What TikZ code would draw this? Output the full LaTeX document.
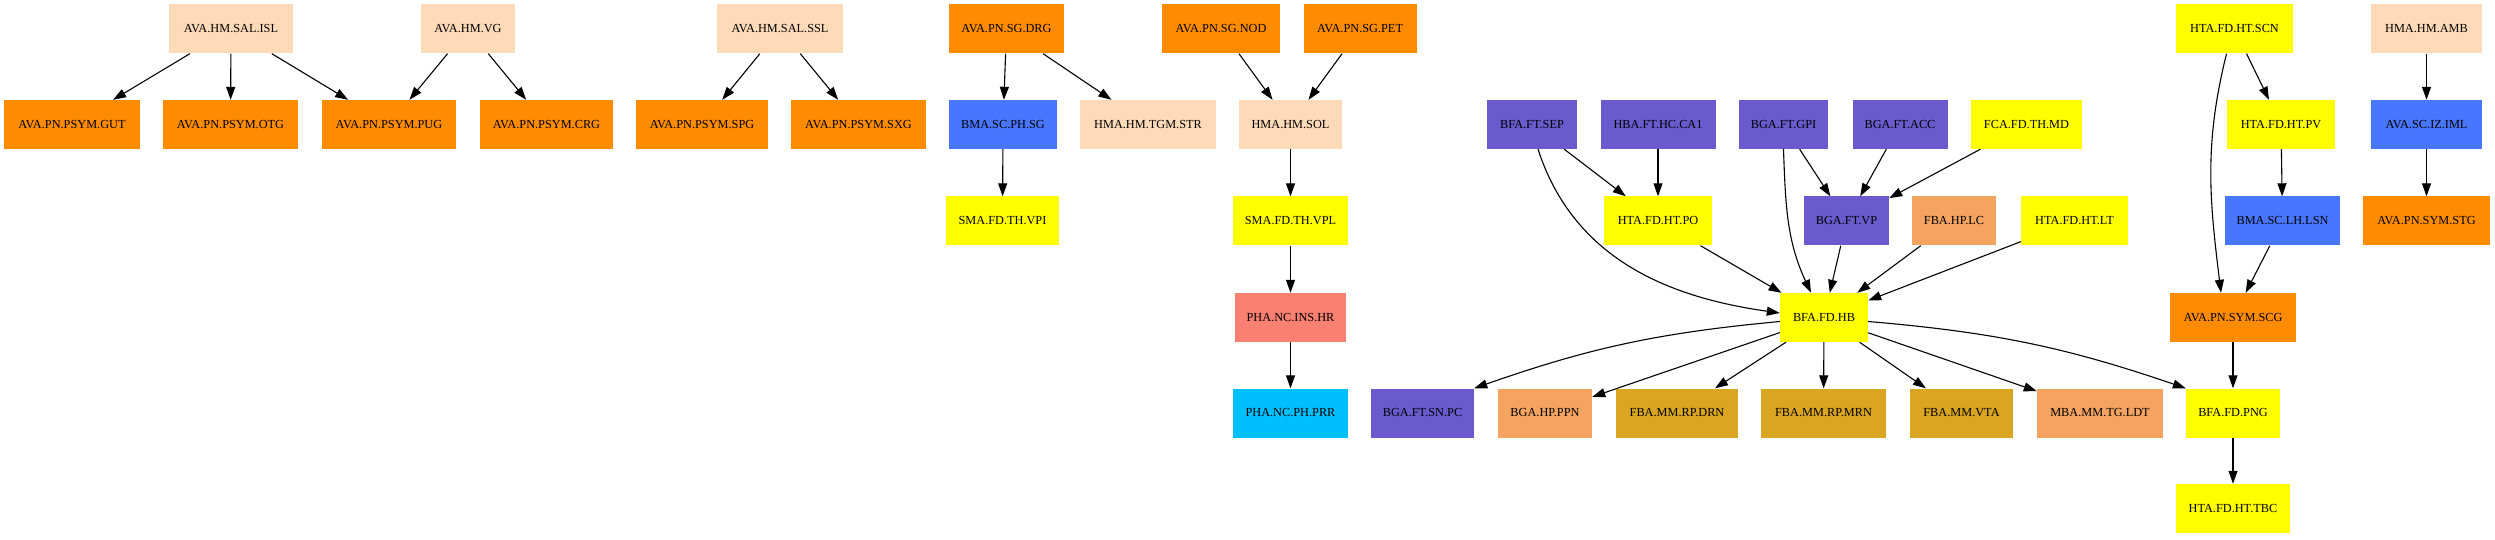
\documentclass[tikz,border=0pt]{standalone}
\usepackage{fontspec}
\setmainfont{Liberation Serif}
\usetikzlibrary{arrows.meta}
\definecolor{cpeach}{HTML}{FFDAB9}
\definecolor{corange}{HTML}{FF8C00}
\definecolor{cblue}{HTML}{4876FF}
\definecolor{cyellow}{HTML}{FFFF00}
\definecolor{cslate}{HTML}{6A5ACD}
\definecolor{csandy}{HTML}{F4A460}
\definecolor{cgold}{HTML}{DAA520}
\definecolor{csalmon}{HTML}{FA8072}
\definecolor{csky}{HTML}{00BFFF}
\tikzset{
  nd/.style={draw=none, minimum height=49pt, inner sep=0pt, font=\fontsize{12.3}{14}\selectfont},
  peach/.style={nd, fill=cpeach},
  orange/.style={nd, fill=corange},
  blue/.style={nd, fill=cblue},
  yel/.style={nd, fill=cyellow},
  slate/.style={nd, fill=cslate},
  sandy/.style={nd, fill=csandy},
  gold/.style={nd, fill=cgold},
  salm/.style={nd, fill=csalmon},
  sky/.style={nd, fill=csky},
  edge/.style={line width=1.1pt, -{Triangle[length=13pt,width=9pt]}}
}
\begin{document}
\begin{tikzpicture}[x=1pt,y=1pt]
\useasboundingbox (0,0) rectangle (2495,539);
% row 1
\node[peach, minimum width=124pt] (isl) at (231,510) {AVA.HM.SAL.ISL};
\node[peach, minimum width=94pt] (vg) at (468,510) {AVA.HM.VG};
\node[peach, minimum width=126pt] (ssl) at (780,510) {AVA.HM.SAL.SSL};
\node[orange, minimum width=115pt] (drg) at (1006.5,510) {AVA.PN.SG.DRG};
\node[orange, minimum width=118pt] (nod) at (1221,510) {AVA.PN.SG.NOD};
\node[orange, minimum width=113pt] (pet) at (1360,510) {AVA.PN.SG.PET};
\node[yel, minimum width=117pt] (scn) at (2234.5,510) {HTA.FD.HT.SCN};
\node[peach, minimum width=111pt] (amb) at (2426.5,510) {HMA.HM.AMB};
% row 2
\node[orange, minimum width=136pt] (gut) at (72,414.5) {AVA.PN.PSYM.GUT};
\node[orange, minimum width=135pt] (otg) at (230.5,414.5) {AVA.PN.PSYM.OTG};
\node[orange, minimum width=134pt] (pug) at (389,414.5) {AVA.PN.PSYM.PUG};
\node[orange, minimum width=133pt] (crg) at (546.5,414.5) {AVA.PN.PSYM.CRG};
\node[orange, minimum width=132pt] (spg) at (702,414.5) {AVA.PN.PSYM.SPG};
\node[orange, minimum width=135pt] (sxg) at (858.5,414.5) {AVA.PN.PSYM.SXG};
\node[blue, minimum width=108pt] (phsg) at (1003,414.5) {BMA.SC.PH.SG};
\node[peach, minimum width=136pt] (tgm) at (1148,414.5) {HMA.HM.TGM.STR};
\node[peach, minimum width=103pt] (sol) at (1290.5,414.5) {HMA.HM.SOL};
\node[slate, minimum width=90pt] (sep) at (1532,414.5) {BFA.FT.SEP};
\node[slate, minimum width=115pt] (ca1) at (1658,414.5) {HBA.FT.HC.CA1};
\node[slate, minimum width=89pt] (gpi) at (1783.5,414.5) {BGA.FT.GPI};
\node[slate, minimum width=95pt] (acc) at (1900,414.5) {BGA.FT.ACC};
\node[yel, minimum width=111pt] (md) at (2026.5,414.5) {FCA.FD.TH.MD};
\node[yel, minimum width=108pt] (pv) at (2281,414.5) {HTA.FD.HT.PV};
\node[blue, minimum width=111pt] (iml) at (2426.5,414.5) {AVA.SC.IZ.IML};
% row 3
\node[yel, minimum width=113pt] (vpi) at (1002.5,318) {SMA.FD.TH.VPI};
\node[yel, minimum width=115pt] (vpl) at (1290.5,318) {SMA.FD.TH.VPL};
\node[yel, minimum width=108pt] (po) at (1658,318) {HTA.FD.HT.PO};
\node[slate, minimum width=85pt] (vp) at (1846.5,318) {BGA.FT.VP};
\node[sandy, minimum width=84pt] (lc) at (1954,318) {FBA.HP.LC};
\node[yel, minimum width=107pt] (lt) at (2074.5,318) {HTA.FD.HT.LT};
\node[blue, minimum width=115pt] (lsn) at (2282.5,318) {BMA.SC.LH.LSN};
\node[orange, minimum width=127pt] (stg) at (2426.5,318) {AVA.PN.SYM.STG};
% row 4
\node[salm, minimum width=111pt] (ins) at (1290.5,221.5) {PHA.NC.INS.HR};
\node[yel, minimum width=88pt] (hb) at (1824,221.5) {BFA.FD.HB};
\node[orange, minimum width=126pt] (scg) at (2233,221.5) {AVA.PN.SYM.SCG};
% row 5
\node[sky, minimum width=115pt] (prr) at (1290.5,126) {PHA.NC.PH.PRR};
\node[slate, minimum width=103pt] (snpc) at (1422.5,126) {BGA.FT.SN.PC};
\node[sandy, minimum width=94pt] (ppn) at (1545,126) {BGA.HP.PPN};
\node[gold, minimum width=122pt] (drn) at (1677,126) {FBA.MM.RP.DRN};
\node[gold, minimum width=125pt] (mrn) at (1823.5,126) {FBA.MM.RP.MRN};
\node[gold, minimum width=103pt] (vta) at (1961.5,126) {FBA.MM.VTA};
\node[sandy, minimum width=126pt] (ldt) at (2100,126) {MBA.MM.TG.LDT};
\node[yel, minimum width=94pt] (png) at (2233,126) {BFA.FD.PNG};
% row 6
\node[yel, minimum width=114pt] (tbc) at (2233,30.5) {HTA.FD.HT.TBC};
% edges
\draw[edge] (isl) -- (gut);
\draw[edge] (isl) -- (otg);
\draw[edge] (isl) -- (pug);
\draw[edge] (vg) -- (pug);
\draw[edge] (vg) -- (crg);
\draw[edge] (ssl) -- (spg);
\draw[edge] (ssl) -- (sxg);
\draw[edge] (drg) -- (phsg);
\draw[edge] (drg) -- (tgm);
\draw[edge] (phsg) -- (vpi);
\draw[edge] (nod) -- (sol);
\draw[edge] (pet) -- (sol);
\draw[edge] (sol) -- (vpl);
\draw[edge] (vpl) -- (ins);
\draw[edge] (ins) -- (prr);
\draw[edge] (sep) -- (po);
\draw[edge] ([xshift=6pt]sep.south) to[out=-72,in=172] ([yshift=4.5pt]hb.west);
\draw[edge] (ca1) -- (po);
\draw[edge] (gpi) -- (vp);
\draw[edge] (gpi.south) to[out=-88,in=115] ([xshift=-13pt]hb.north);
\draw[edge] (acc) -- (vp);
\draw[edge] (md) -- (vp);
\draw[edge] (po) -- (hb);
\draw[edge] (vp) -- (hb);
\draw[edge] (lc) -- (hb);
\draw[edge] (lt) -- (hb);
\draw[edge] ([yshift=-4pt]hb.west) to[bend right=7] (snpc.north east);
\draw[edge] (hb) -- (ppn);
\draw[edge] (hb) -- (drn);
\draw[edge] (hb) -- (mrn);
\draw[edge] (hb) -- (vta);
\draw[edge] (hb) -- (ldt);
\draw[edge] ([yshift=-4pt]hb.east) to[bend left=7] (png.north west);
\draw[edge] (scn) -- (pv);
\draw[edge] ([xshift=-8pt]scn.south) to[out=-104,in=97] ([xshift=-12pt]scg.north);
\draw[edge] (pv) -- (lsn);
\draw[edge] (lsn) -- (scg);
\draw[edge] (scg) -- (png);
\draw[edge] (png) -- (tbc);
\draw[edge] (amb) -- (iml);
\draw[edge] (iml) -- (stg);
\end{tikzpicture}
\end{document}
